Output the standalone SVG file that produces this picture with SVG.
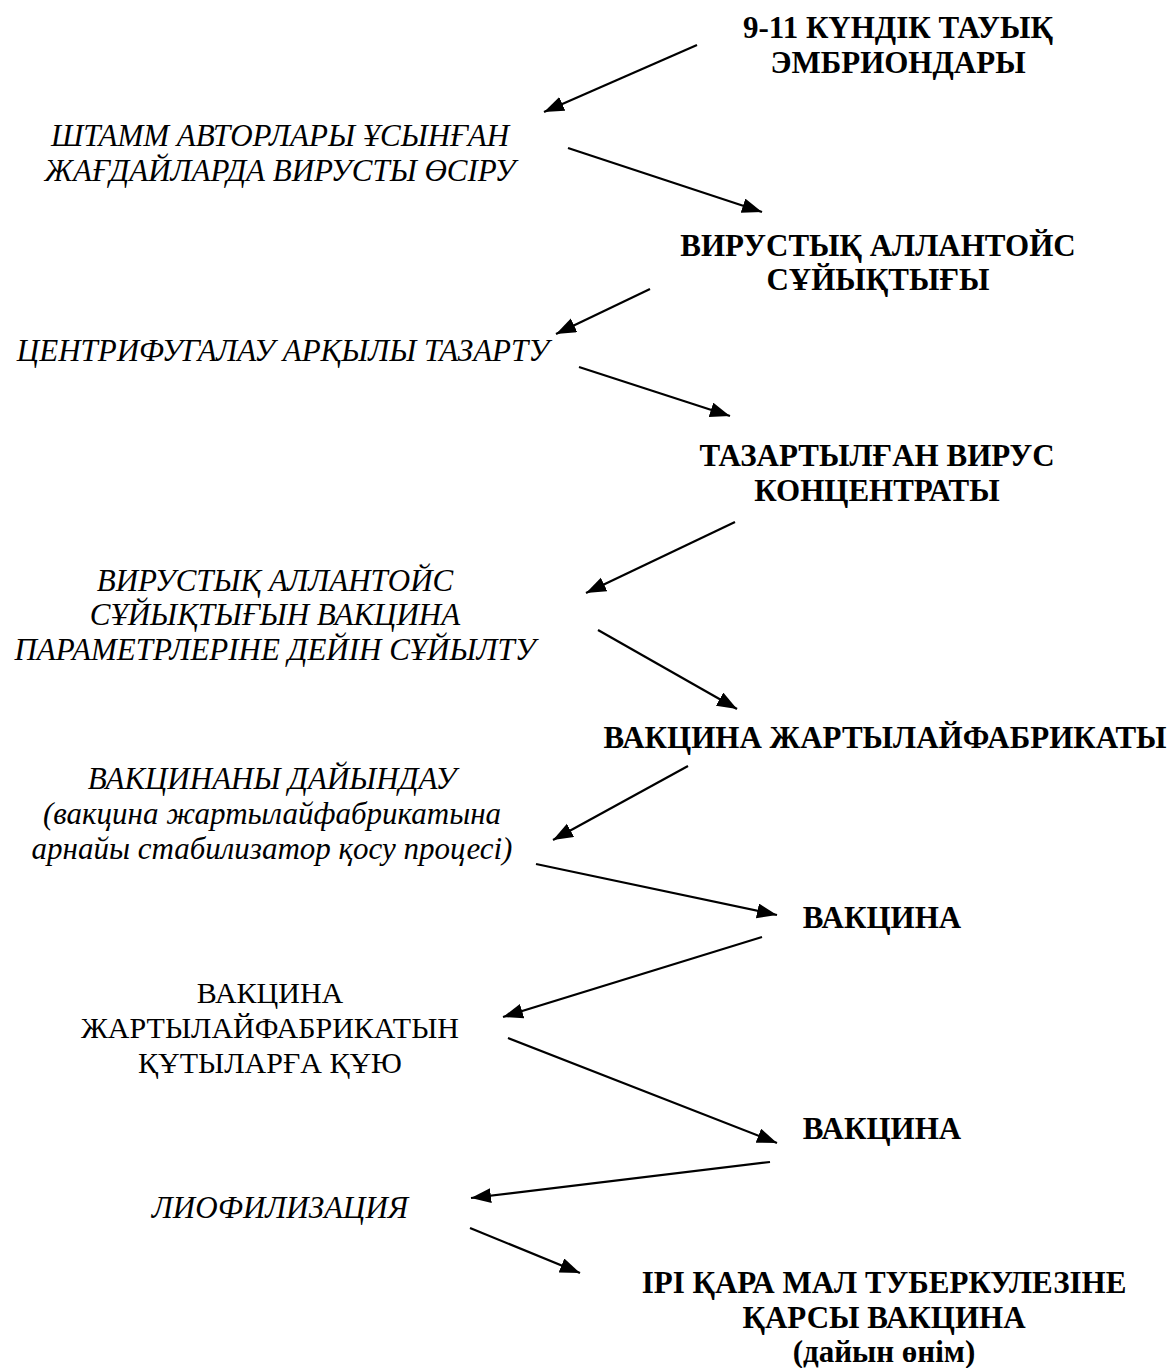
<svg xmlns="http://www.w3.org/2000/svg" width="1168" height="1368" viewBox="0 0 1168 1368">
<defs>
<marker id="ah" markerUnits="userSpaceOnUse" markerWidth="22" markerHeight="16" refX="20" refY="7.5" orient="auto">
<path d="M0,0 L20,7.5 L0,15 Z" fill="#000"/>
</marker>
<style>
.b{font-family:"Liberation Serif","Times New Roman",serif;font-weight:bold;font-size:31px;fill:#000;text-anchor:middle}
.i{font-family:"Liberation Serif","Times New Roman",serif;font-style:italic;font-size:31px;fill:#000;text-anchor:middle}
.r{font-family:"Liberation Serif","Times New Roman",serif;font-size:30px;fill:#000;text-anchor:middle}
.c{stroke:#000;stroke-width:2.2;fill:none;marker-end:url(#ah)}
</style>
</defs>
<rect width="1168" height="1368" fill="#fff"/>
<g id="n1"><text class="b" x="898" y="38">9-11 КҮНДІК ТАУЫҚ</text><text class="b" x="898" y="73">ЭМБРИОНДАРЫ</text></g>
<g id="p1"><text class="i" x="280" y="146">ШТАММ АВТОРЛАРЫ ҰСЫНҒАН</text><text class="i" x="280" y="181">ЖАҒДАЙЛАРДА ВИРУСТЫ ӨСІРУ</text></g>
<g id="n2"><text class="b" x="878" y="256">ВИРУСТЫҚ АЛЛАНТОЙС</text><text class="b" x="878" y="290">СҰЙЫҚТЫҒЫ</text></g>
<g id="p2"><text class="i" x="283" y="361">ЦЕНТРИФУГАЛАУ АРҚЫЛЫ ТАЗАРТУ</text></g>
<g id="n3"><text class="b" x="877" y="466">ТАЗАРТЫЛҒАН ВИРУС</text><text class="b" x="877" y="501">КОНЦЕНТРАТЫ</text></g>
<g id="p3"><text class="i" x="275" y="591">ВИРУСТЫҚ АЛЛАНТОЙС</text><text class="i" x="275" y="625">СҰЙЫҚТЫҒЫН ВАКЦИНА</text><text class="i" x="275" y="660">ПАРАМЕТРЛЕРІНЕ ДЕЙІН СҰЙЫЛТУ</text></g>
<g id="n4"><text class="b" x="885" y="748">ВАКЦИНА ЖАРТЫЛАЙФАБРИКАТЫ</text></g>
<g id="p4"><text class="i" x="272" y="789">ВАКЦИНАНЫ ДАЙЫНДАУ</text><text class="i" x="272" y="824">(вакцина жартылайфабрикатына</text><text class="i" x="272" y="859">арнайы стабилизатор қосу процесі)</text></g>
<g id="n5"><text class="b" x="882" y="928">ВАКЦИНА</text></g>
<g id="p5"><text class="r" x="270" y="1003">ВАКЦИНА</text><text class="r" x="270" y="1038">ЖАРТЫЛАЙФАБРИКАТЫН</text><text class="r" x="270" y="1073">ҚҰТЫЛАРҒА ҚҰЮ</text></g>
<g id="n6"><text class="b" x="882" y="1139">ВАКЦИНА</text></g>
<g id="p6"><text class="i" x="280" y="1218">ЛИОФИЛИЗАЦИЯ</text></g>
<g id="n7"><text class="b" x="884" y="1293">ІРІ ҚАРА МАЛ ТУБЕРКУЛЕЗІНЕ</text><text class="b" x="884" y="1328">ҚАРСЫ ВАКЦИНА</text><text class="b" x="884" y="1362">(дайын өнім)</text></g>
<g id="connectors">
<line class="c" x1="697" y1="45" x2="544" y2="112"/>
<line class="c" x1="568" y1="148" x2="762" y2="212"/>
<line class="c" x1="650" y1="289" x2="556" y2="334"/>
<line class="c" x1="579" y1="367" x2="730" y2="416"/>
<line class="c" x1="735" y1="522" x2="586" y2="593"/>
<line class="c" x1="598" y1="630" x2="737" y2="709"/>
<line class="c" x1="688" y1="766" x2="553" y2="840"/>
<line class="c" x1="536" y1="864" x2="777" y2="915"/>
<line class="c" x1="762" y1="937" x2="503" y2="1017"/>
<line class="c" x1="508" y1="1038" x2="777" y2="1143"/>
<line class="c" x1="770" y1="1162" x2="471" y2="1198"/>
<line class="c" x1="470" y1="1228" x2="580" y2="1273"/>
</g>
</svg>
